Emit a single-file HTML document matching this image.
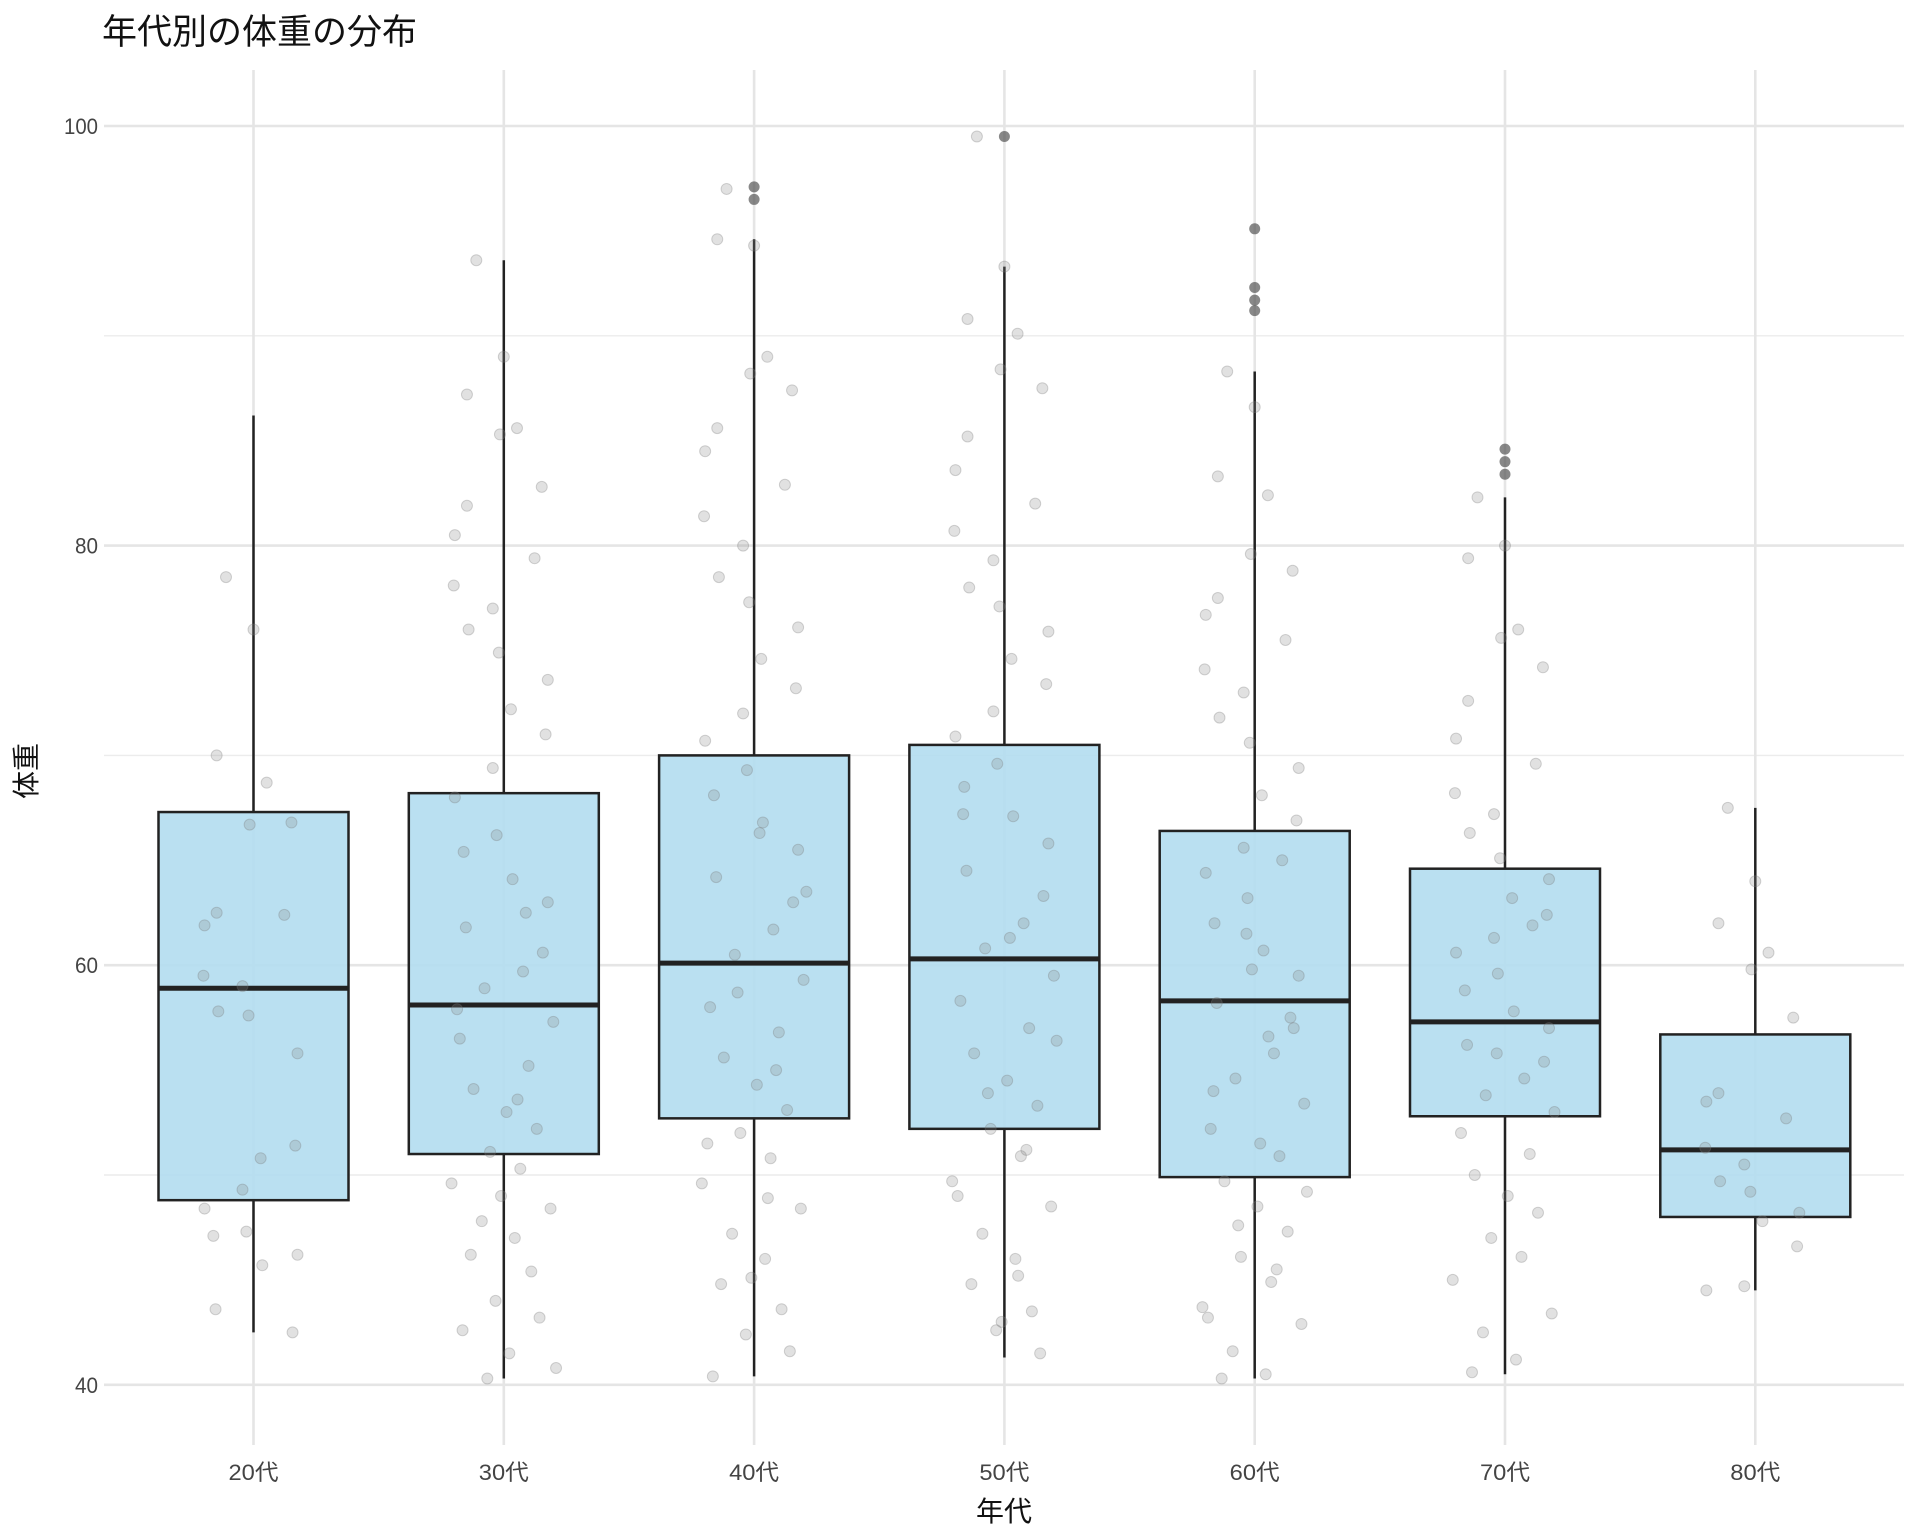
<!DOCTYPE html>
<html><head><meta charset="utf-8"><style>
html,body{margin:0;padding:0;background:#fff;}
svg{display:block;font-family:"Liberation Sans","Noto Sans CJK JP",sans-serif;}
</style></head><body>
<svg id="chart" width="1920" height="1536" viewBox="0 0 1920 1536" xmlns="http://www.w3.org/2000/svg">
<text x="102" y="44" font-size="35" fill="#111" font-family="Liberation Sans, Noto Sans CJK JP, sans-serif">年代別の体重の分布</text>
<text x="1004" y="1521" font-size="28" text-anchor="middle" fill="#111">年代</text>
<text transform="translate(36,771) rotate(-90)" font-size="28" text-anchor="middle" fill="#111">体重</text>
<g id="grid"></g><g id="boxes"></g><g id="pts"></g><g id="ticks"></g>
</svg>
<script>
const categories=["20代","30代","40代","50代","60代","70代","80代"];
const q1=[48.8,51.0,52.7,52.2,49.9,52.8,48.0];
const medians=[58.9,58.1,60.1,60.3,58.3,57.3,51.2];
const q3=[67.3,68.2,70.0,70.5,66.4,64.6,56.7];
const whiskerLow=[42.5,40.3,40.4,41.3,40.3,40.5,44.5];
const whiskerHigh=[86.2,93.6,94.6,93.3,88.3,82.3,67.5];
const outliers=[[],[],[97.1,96.5],[99.5],[95.1,92.3,91.7,91.2],[84.6,84.0,83.4],[]];
const yTicks=[40,60,80,100];
const jitter=[-0.5,0,-0.67,0.24,-0.07,0.69,-0.67,-0.89,0.56,-0.91,-0.2,-0.64,-0.09,0.8,0.13,0.76,-0.2,-0.89,-0.13,-0.73,0.16,0.8,-0.69,0.71,0.35,-0.35,0.9,-0.8,0.45,-0.55,0.05,0.6,-0.25,0.3,-0.95,0.85,-0.4,0.2,-0.6,0.5,-0.15,0.65,-0.75,0.1,0.95,-0.3,0.4,-0.85,0.25,-0.05];
const pts20=[78.5,76.0,70.0,68.7,66.7,66.8,62.5,61.9,62.4,59.5,59.0,57.8,57.6,55.8,50.8,51.4,49.3,48.4,47.3,47.1,45.7,46.2,43.6,42.5];
const pts30=[93.6,89.0,87.2,85.6,85.3,82.8,81.9,80.5,79.4,78.1,77.0,76.0,74.9,73.6,72.2,71.0,69.4,68.0,66.2,65.4,64.1,63.0,61.8,60.6,59.7,58.9,57.3,56.5,55.2,54.1,53.0,52.2,51.1,50.3,49.6,48.4,47.8,47.0,46.2,45.4,44.0,43.2,42.6,41.5,40.8,40.3,62.5,57.9,53.6,49.0];
const pts40=[97.0,94.3,94.6,89.0,88.2,87.4,85.6,84.5,82.9,81.4,80.0,78.5,77.3,76.1,74.6,73.2,72.0,70.7,69.3,68.1,66.8,65.5,64.2,63.0,61.7,60.5,59.3,58.0,56.8,55.6,54.3,53.1,52.0,50.8,49.6,48.4,47.2,46.0,44.8,43.6,42.4,41.6,40.4,66.3,63.5,58.7,55.0,51.5,48.9,45.1];
const pts50=[99.5,93.3,90.8,90.1,88.4,87.5,85.2,83.6,82.0,80.7,79.3,78.0,77.1,75.9,74.6,73.4,72.1,70.9,69.6,68.5,67.1,65.8,64.5,63.3,62.0,60.8,59.5,58.3,57.0,55.8,54.5,53.3,52.2,50.9,49.7,48.5,47.2,46.0,44.8,43.5,42.6,41.5,67.2,61.3,56.4,53.9,51.2,49.0,45.2,43.0];
const pts60=[88.3,86.6,83.3,82.4,79.6,78.8,77.5,76.7,75.5,74.1,73.0,71.8,70.6,69.4,68.1,66.9,65.6,64.4,63.2,62.0,60.7,59.5,58.2,57.0,55.8,54.6,53.4,52.2,50.9,49.7,48.5,47.3,46.1,44.9,43.7,42.9,41.6,40.5,40.3,65.0,61.5,57.5,54.0,51.5,49.2,47.6,45.5,43.2,56.6,59.8];
const pts70=[82.3,80.0,79.4,76.0,75.6,74.2,72.6,70.8,69.6,68.2,67.2,66.3,65.1,64.1,63.2,62.4,61.3,60.6,59.6,58.8,57.8,57.0,56.2,55.4,54.6,53.8,53.0,52.0,51.0,50.0,49.0,48.2,47.0,46.1,45.0,43.4,42.5,41.2,40.6,61.9,55.8];
const pts80=[67.5,64.0,62.0,60.6,59.8,57.5,53.9,53.5,52.7,51.3,50.5,49.7,49.2,48.2,47.8,46.6,44.7,44.5];
const groups=[pts20,pts30,pts40,pts50,pts60,pts70,pts80];
const NS="http://www.w3.org/2000/svg";
const X0=253.5,DX=250.3,PL=104,PR=1904,PT=70,PB=1445;
function x(i){return X0+i*DX;}
function y(v){return 126+(100-v)*20.98;}
function mk(tag,attrs,parent){const e=document.createElementNS(NS,tag);for(const k in attrs)e.setAttribute(k,attrs[k]);parent.appendChild(e);return e;}
const grid=document.getElementById('grid'),boxes=document.getElementById('boxes'),pts=document.getElementById('pts'),ticks=document.getElementById('ticks');
[50,70,90].forEach(v=>{const l=mk('line',{x1:PL,x2:PR,y1:y(v),y2:y(v),stroke:'#ececec','stroke-width':1.4},grid);

});
yTicks.forEach(v=>{const l=mk('line',{x1:PL,x2:PR,y1:y(v),y2:y(v),stroke:'#e5e5e5','stroke-width':2.6},grid);


const t=mk('text',{x:98,y:y(v)+8,'font-size':22,'text-anchor':'end',fill:'#444',transform:'translate('+(98*0.22)+',0) scale(0.78,1)'},ticks);
t.setAttribute('transform','');t.setAttribute('x',98);
t.setAttribute('textLength',v>=100?34:23);t.setAttribute('lengthAdjust','spacingAndGlyphs');
t.textContent=v;

});
categories.forEach((c,i)=>{const l=mk('line',{x1:x(i),x2:x(i),y1:PT,y2:PB,stroke:'#e5e5e5','stroke-width':2.6},grid);


const t=mk('text',{x:x(i),y:1480,'font-size':22,'text-anchor':'middle',fill:'#444',textLength:50,lengthAdjust:'spacingAndGlyphs'},ticks);
t.textContent=c;


const cx=x(i),hw=95;
const wl=mk('line',{x1:cx,x2:cx,y1:y(whiskerHigh[i]),y2:y(q3[i]),stroke:'#222','stroke-width':2.5},boxes);


const wb=mk('line',{x1:cx,x2:cx,y1:y(q1[i]),y2:y(whiskerLow[i]),stroke:'#222','stroke-width':2.5},boxes);


const r=mk('rect',{x:cx-hw,y:y(q3[i]),width:2*hw,height:y(q1[i])-y(q3[i]),fill:'#b3ddf0','fill-opacity':0.9,stroke:'#222','stroke-width':2.5},boxes);


const m=mk('line',{x1:cx-hw,x2:cx+hw,y1:y(medians[i]),y2:y(medians[i]),stroke:'#222','stroke-width':5},boxes);


groups[i].forEach((v,j)=>{const p=mk('circle',{cx:cx+jitter[j%jitter.length]*55,cy:y(v),r:5.5,fill:'#888','fill-opacity':0.25,stroke:'#777','stroke-opacity':0.3,'stroke-width':1},pts);

});
outliers[i].forEach(v=>{const p=mk('circle',{cx:cx,cy:y(v),r:5.5,fill:'#555','fill-opacity':0.7},pts);

});
});
</script>
</body></html>
